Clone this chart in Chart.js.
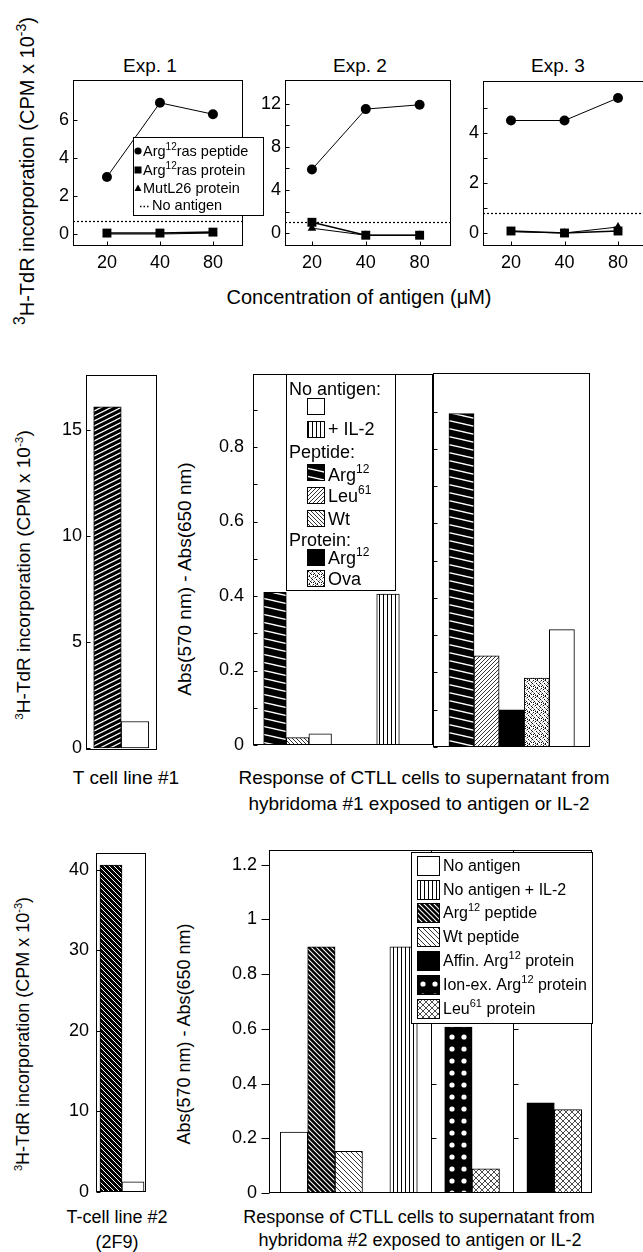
<!DOCTYPE html>
<html><head><meta charset="utf-8">
<script src="https://cdn.jsdelivr.net/npm/chart.js@4.4.1/dist/chart.umd.min.js"></script>
<style>
html,body{margin:0;padding:0;background:#fff;overflow:hidden;}
body{width:643px;height:1252px;position:relative;font-family:"Liberation Sans",Arial,Helvetica,sans-serif;color:#000;}
.pane{position:absolute;}
.txt{position:absolute;white-space:nowrap;line-height:1;transform:translate(-50%,-50%);}
.rot{transform:translate(-50%,-50%) rotate(-90deg);}
.sp{font-size:0.62em;position:relative;top:-0.6em;}
</style></head><body>
<div class="txt" style="left:150px;top:65px;font-size:19px">Exp. 1</div>
<div class="txt" style="left:360px;top:65px;font-size:19px">Exp. 2</div>
<div class="txt" style="left:558px;top:65px;font-size:19px">Exp. 3</div>
<div class="txt rot" style="left:27px;top:171px;font-size:20px"><span class="sp" style="font-size:0.78em">3</span>H-TdR incorporation (CPM x 10<span class="sp" style="font-size:0.7em">-3</span>)</div>
<div class="txt" style="left:359px;top:297px;font-size:20px">Concentration of antigen (μM)</div>
<div class="txt rot" style="left:23px;top:575px;font-size:19px"><span class="sp">3</span>H-TdR incorporation (CPM x 10<span class="sp">-3</span>)</div>
<div class="txt rot" style="left:184px;top:579px;font-size:19px">Abs(570 nm) - Abs(650 nm)</div>
<div class="txt" style="left:126px;top:777px;font-size:19px">T cell line #1</div>
<div class="txt" style="left:424px;top:777px;font-size:19px">Response of CTLL cells to supernatant from</div>
<div class="txt" style="left:419px;top:803px;font-size:19px">hybridoma #1 exposed to antigen or IL-2</div>
<div class="txt rot" style="left:23px;top:1034px;font-size:18px"><span class="sp">3</span>H-TdR incorporation (CPM x 10<span class="sp">-3</span>)</div>
<div class="txt rot" style="left:184px;top:1034px;font-size:18px">Abs(570 nm) - Abs(650 nm)</div>
<div class="txt" style="left:117px;top:1217px;font-size:18px">T-cell line #2</div>
<div class="txt" style="left:117px;top:1242px;font-size:18px">(2F9)</div>
<div class="txt" style="left:419px;top:1217px;font-size:18px">Response of CTLL cells to supernatant from</div>
<div class="txt" style="left:420px;top:1240px;font-size:18px">hybridoma #2 exposed to antigen or IL-2</div>
<script>
// ===================== DATA =====================
const concentrations = [20, 40, 80];
const exp1Peptide = [3.0, 6.9, 6.3];
const exp1Protein = [0.05, 0.05, 0.1];
const exp1MutL26 = [0.0, 0.0, 0.05];
const exp1NoAntigen = 0.7;
const exp2Peptide = [5.9, 11.5, 11.9];
const exp2Protein = [1.0, -0.2, -0.2];
const exp2MutL26 = [0.45, -0.2, -0.2];
const exp2NoAntigen = 1.0;
const exp3Peptide = [4.5, 4.5, 5.4];
const exp3Protein = [0.08, 0.0, 0.08];
const exp3MutL26 = [0.05, 0.0, 0.24];
const exp3NoAntigen = 0.8;
const exp1YTicks = [0, 2, 4, 6];
const exp2YTicks = [0, 4, 8, 12];
const exp2YMinor = [2, 6, 10];
const exp3YTicks = [0, 2, 4];
const exp3YMinor = [1, 3, 5];

const tcell1Bars = ['Arg12 peptide', 'No antigen'];
const tcell1Values = [16.1, 1.25];
const tcell1YTicks = [0, 5, 10, 15];

const hyb1aBars = ['Arg12 peptide', 'Wt peptide', 'No antigen', null, null, 'No antigen + IL-2'];
const hyb1aValues = [0.41, 0.02, 0.03, null, null, 0.405];
const hyb1bBars = ['Arg12 peptide', 'Leu61 peptide', 'Arg12 protein', 'Ova protein', 'No antigen'];
const hyb1bValues = [0.895, 0.245, 0.1, 0.185, 0.315];
const abs1YTicks = [0, 0.2, 0.4, 0.6, 0.8];
const abs1YMinor = [0.1, 0.3, 0.5, 0.7, 0.9];

const tcell2Bars = ['Arg12 peptide', 'No antigen'];
const tcell2Values = [40.6, 1.25];
const tcell2YTicks = [0, 10, 20, 30, 40];

const hyb2Bars = ['No antigen', 'Arg12 peptide', 'Wt peptide', null, 'No antigen + IL-2', null,
                  'Ion-ex. Arg12 protein', 'Leu61 protein', null, 'Affin. Arg12 protein', 'Leu61 protein'];
const hyb2Values = [0.223, 0.90, 0.152, null, 0.90, null, 0.607, 0.088, null, 0.33, 0.305];
const abs2YTicks = [0, 0.2, 0.4, 0.6, 0.8, 1, 1.2];

// ===================== STYLE HELPERS =====================
const FONT = '"Liberation Sans", Arial, Helvetica, sans-serif';
const BLACK = '#000';
function tile(w, h, bg, draw) {
  const c = document.createElement('canvas'); c.width = w; c.height = h;
  const g = c.getContext('2d'); g.fillStyle = bg; g.fillRect(0, 0, w, h); draw(g, w, h);
  return document.createElement('canvas').getContext('2d').createPattern(c, 'repeat');
}
function diag(w, h, bg, fg, lw, dir) {
  return tile(w, h, bg, g => {
    g.strokeStyle = fg; g.lineWidth = lw;
    for (let k = -1; k <= 1; k++) {
      g.beginPath();
      if (dir > 0) { g.moveTo(-1, k * h - h / w); g.lineTo(w + 1, k * h + h + h / w); }
      else { g.moveTo(-1, k * h + h + h / w); g.lineTo(w + 1, k * h - h / w); }
      g.stroke();
    }
  });
}
const stipDark = [[1,0],[5,0],[3,1],[7,2],[0,3],[4,3],[2,5],[6,5],[1,6],[5,7],[3,7],[7,6]];
const stipGray = [[0,1],[6,1],[2,2],[5,4],[1,4],[7,4],[3,6],[4,0]];
const P = {
  vlines: tile(4, 4, '#fff', g => { g.fillStyle = BLACK; g.fillRect(0, 0, 1, 4); }),
  hatchMidArg: diag(36, 8, BLACK, '#fff', 1.3, 1),
  leu: diag(4, 4, '#fff', BLACK, 0.8, -1),
  wt: diag(4, 4, '#fff', BLACK, 0.8, 1),
  ova: tile(8, 8, '#fff', g => { g.fillStyle = '#111'; stipDark.forEach(p => g.fillRect(p[0], p[1], 1, 1)); g.fillStyle = '#999'; stipGray.forEach(p => g.fillRect(p[0], p[1], 1, 1)); }),
  tc1: diag(10, 5, BLACK, '#fff', 1.2, -1),
  arg2: diag(5, 5, BLACK, '#fff', 1.1, 1),
  wt2: diag(5, 5, '#fff', BLACK, 0.8, 1),
  tc2: diag(5, 5, BLACK, '#fff', 1.0, 1),
  dots: tile(12, 12, BLACK, g => { g.fillStyle = '#fff'; [0, 12].forEach(y => { g.beginPath(); g.arc(3, y, 2.6, 0, Math.PI * 2); g.fill(); }); }),
  cross: tile(6, 6, '#fff', g => { g.strokeStyle = BLACK; g.lineWidth = 0.7; g.beginPath(); g.moveTo(-1, -1); g.lineTo(7, 7); g.moveTo(-1, 7); g.lineTo(7, -1); g.stroke(); })
};
const tc1Styles = { 'Arg12 peptide': P.tc1, 'No antigen': '#fff' };
const hyb1Styles = { 'Arg12 peptide': P.hatchMidArg, 'Wt peptide': P.wt, 'Leu61 peptide': P.leu, 'No antigen': '#fff',
  'No antigen + IL-2': P.vlines, 'Arg12 protein': BLACK, 'Ova protein': P.ova };
const tc2Styles = { 'Arg12 peptide': P.tc2, 'No antigen': '#fff' };
const hyb2Styles = { 'No antigen': '#fff', 'No antigen + IL-2': P.vlines, 'Arg12 peptide': P.arg2, 'Wt peptide': P.wt2,
  'Affin. Arg12 protein': BLACK, 'Ion-ex. Arg12 protein': P.dots, 'Leu61 protein': P.cross };

function rich(ctx, x, y, parts, size) {
  let cx = x;
  parts.forEach(p => {
    if (typeof p === 'string') { ctx.font = size + 'px ' + FONT; ctx.fillText(p, cx, y); cx += ctx.measureText(p).width; }
    else { const s = Math.round(size * 0.66); ctx.font = s + 'px ' + FONT; ctx.fillText(p.sup, cx, y - size * 0.36); cx += ctx.measureText(p.sup).width; }
  });
}
function swatch(ctx, fill, x, y, w, h) {
  ctx.fillStyle = fill; ctx.fillRect(x, y, w, h);
  ctx.strokeStyle = BLACK; ctx.lineWidth = 1; ctx.strokeRect(x + 0.5, y + 0.5, w - 1, h - 1);
  ctx.fillStyle = BLACK;
}

// ===================== DECORATION PLUGIN =====================
const deco = {
  id: 'deco',
  beforeDatasetsDraw(chart, args, o) {
    const ctx = chart.ctx, a = chart.chartArea, ys = chart.scales.y;
    ctx.save(); ctx.strokeStyle = BLACK; ctx.lineWidth = 1.2; ctx.setLineDash([2, 2]);
    (o.hlines || []).forEach(v => { const y = Math.round(ys.getPixelForValue(v)) + 0.5; ctx.beginPath(); ctx.moveTo(a.left, y); ctx.lineTo(a.right, y); ctx.stroke(); });
    ctx.restore();
  },
  afterDatasetsDraw(chart, args, o) {
    const ctx = chart.ctx, a = chart.chartArea, xs = chart.scales.x, ys = chart.scales.y;
    ctx.save(); ctx.strokeStyle = BLACK; ctx.lineWidth = 1; ctx.setLineDash([]);
    const L = Math.round(a.left) + 0.5, T = Math.round(a.top) + 0.5, R = Math.round(a.right) - 0.5, B = Math.round(a.bottom) - 0.5;
    (o.subAxes || []).forEach(sa => {
      const x = Math.round(xs.getPixelForValue(sa.at)) + 0.5;
      ctx.beginPath(); ctx.moveTo(x, T); ctx.lineTo(x, B); ctx.stroke();
      sa.ticks.forEach(v => { const y = Math.round(ys.getPixelForValue(v)) + 0.5; ctx.beginPath(); ctx.moveTo(x, y); ctx.lineTo(x + 5, y); ctx.stroke(); });
    });
    ctx.strokeRect(L, T, R - L, B - T);
    const tl = o.tickLen || 4;
    (o.yTicks || []).concat(o.yMinor || []).forEach(v => {
      const y = Math.round(ys.getPixelForValue(v)) + 0.5;
      ctx.beginPath();
      if (o.yDir === 'out') { ctx.moveTo(L - tl, y); ctx.lineTo(L, y); } else { ctx.moveTo(L, y); ctx.lineTo(L + tl, y); }
      ctx.stroke();
    });
    (o.xTicks || []).forEach(v => {
      const x = Math.round(xs.getPixelForValue(v)) + 0.5;
      ctx.beginPath(); ctx.moveTo(x, B); ctx.lineTo(x, B - tl); ctx.stroke();
    });
    if (o.legend) { ctx.translate(-o.origin.x, -o.origin.y); o.legend(ctx); }
    ctx.restore();
  }
};

// ===================== CHART BUILDERS =====================
function mkChart(frame, m, config) {
  const div = document.createElement('div'); div.className = 'pane';
  div.style.left = (frame.l - m.L) + 'px'; div.style.top = (frame.t - m.T) + 'px';
  div.style.width = (frame.r - frame.l + m.L + m.R) + 'px'; div.style.height = (frame.b - frame.t + m.T + m.B) + 'px';
  const cv = document.createElement('canvas'); div.appendChild(cv); document.body.appendChild(div);
  const o = config.options;
  o.responsive = true; o.maintainAspectRatio = false; o.animation = false; o.events = [];
  o.layout = { padding: { top: m.T, right: m.R, left: 0, bottom: 0 }, autoPadding: false };
  o.plugins = Object.assign({ legend: { display: false }, tooltip: { enabled: false } }, o.plugins);
  o.plugins.deco.origin = { x: frame.l - m.L, y: frame.t - m.T };
  config.plugins = [deco];
  return new Chart(cv, config);
}
function yScale(min, max, ticks, m, pad, fmt, show) {
  return {
    type: 'linear', min, max,
    afterBuildTicks: s => { s.ticks = ticks.map(v => ({ value: v })); },
    afterFit: s => { s.width = m.L; s.paddingTop = 0; s.paddingBottom = 0; },
    grid: { display: false, drawTicks: false }, border: { display: false },
    ticks: { display: show !== false, padding: pad, color: BLACK, autoSkip: false, font: { family: FONT, size: 18 }, callback: v => fmt(v) }
  };
}
function xLog(min, max, m) {
  return {
    type: 'logarithmic', min, max, offset: false,
    afterBuildTicks: s => { s.ticks = concentrations.map(v => ({ value: v })); },
    afterFit: s => { s.height = m.B; s.paddingLeft = 0; s.paddingRight = 0; },
    grid: { display: false, drawTicks: false }, border: { display: false },
    ticks: { padding: 6, color: BLACK, autoSkip: false, maxRotation: 0, minRotation: 0, font: { family: FONT, size: 18 }, callback: v => String(v) }
  };
}
function xSlots(min, max, n, m) {
  return {
    type: 'linear', min, max, offset: false, bounds: 'data',
    grid: { display: false, drawTicks: false, offset: false }, border: { display: false }, ticks: { display: false },
    afterBuildTicks: s => { s.ticks = Array.from({ length: n }, (_, i) => ({ value: i })); },
    afterFit: s => { s.height = m.B; s.paddingLeft = 0; s.paddingRight = 0; }
  };
}
function lineDs(vals, style, r, lw) {
  return { data: concentrations.map((c, i) => ({ x: c, y: vals[i] })), borderColor: BLACK, borderWidth: lw,
    pointStyle: style, pointRadius: r, pointBackgroundColor: BLACK, pointBorderColor: BLACK, pointBorderWidth: 0,
    tension: 0, fill: false, clip: false };
}
function barDs(names, values, styles) {
  const data = [], fills = [];
  names.forEach((n, i) => { if (n !== null && values[i] !== null) { data.push({ x: i, y: values[i] }); fills.push(styles[n]); } });
  return { data, backgroundColor: c => fills[c.dataIndex], borderColor: BLACK, borderWidth: 1,
    borderSkipped: false, barPercentage: 1, categoryPercentage: 1 };
}
const intFmt = v => String(v);
const decFmt = v => String(Math.round(v * 10) / 10);

// ===================== TOP ROW =====================
const mTop1 = { L: 40, T: 10, R: 25, B: 30 };
const mTop = { L: 40, T: 10, R: 5, B: 30 };
function expChart(frame, m, xr, yr, pep, prot, mut, noAg, yT, yMin, legend) {
  return mkChart(frame, m, {
    type: 'line',
    data: { datasets: [lineDs(pep, 'circle', 5, 1), lineDs(prot, 'rect', 6.3, 1.6), lineDs(mut, 'triangle', 5, 1)] },
    options: {
      scales: { x: xLog(xr[0], xr[1], m), y: yScale(yr[0], yr[1], yT, m, 4, intFmt) },
      plugins: { deco: { hlines: [noAg], yTicks: yT, yMinor: yMin, xTicks: concentrations, legend } }
    }
  });
}
expChart({ l: 73, t: 80, r: 243, b: 246 }, mTop1, [12.83, 118.5], [-0.63, 8.1], exp1Peptide, exp1Protein, exp1MutL26, exp1NoAntigen, exp1YTicks, [],
  ctx => {
    ctx.fillStyle = '#fff'; ctx.fillRect(133, 137, 130, 78);
    ctx.strokeStyle = BLACK; ctx.lineWidth = 1; ctx.strokeRect(133.5, 137.5, 130, 78);
    ctx.fillStyle = BLACK; ctx.textBaseline = 'middle';
    ctx.beginPath(); ctx.arc(138, 151, 3.6, 0, Math.PI * 2); ctx.fill();
    rich(ctx, 143, 152, ['Arg', { sup: '12' }, 'ras peptide'], 14.5);
    ctx.fillRect(134.5, 166.5, 7, 7);
    rich(ctx, 143, 171, ['Arg', { sup: '12' }, 'ras protein'], 14.5);
    ctx.beginPath(); ctx.moveTo(138, 184.5); ctx.lineTo(141.5, 191); ctx.lineTo(134.5, 191); ctx.closePath(); ctx.fill();
    rich(ctx, 143, 189, ['MutL26 protein'], 14.5);
    ctx.setLineDash([1.5, 2]); ctx.lineWidth = 1.5; ctx.beginPath(); ctx.moveTo(140, 206.5); ctx.lineTo(149, 206.5); ctx.stroke(); ctx.setLineDash([]);
    rich(ctx, 152, 206, ['No antigen'], 14.5);
  });
expChart({ l: 285, t: 80, r: 451, b: 246 }, mTop, [14.14, 119.8], [-1.2, 14.2], exp2Peptide, exp2Protein, exp2MutL26, exp2NoAntigen, exp2YTicks, exp2YMinor, null);
expChart({ l: 483, t: 81, r: 662, b: 246 }, mTop, [13.92, 141.4], [-0.52, 6.08], exp3Peptide, exp3Protein, exp3MutL26, exp3NoAntigen, exp3YTicks, exp3YMinor, null);

// ===================== MIDDLE ROW =====================
function barChart(frame, m, xr, yr, names, values, styles, decoOpts, yT, pad, fmt, showY) {
  return mkChart(frame, m, {
    type: 'bar',
    data: { datasets: [barDs(names, values, styles)] },
    options: {
      scales: { x: xSlots(xr[0], xr[1], names.length, m), y: yScale(yr[0], yr[1], yT, m, pad, fmt, showY) },
      plugins: { deco: decoOpts }
    }
  });
}
barChart({ l: 86, t: 375, r: 157, b: 750 }, { L: 40, T: 5, R: 5, B: 10 }, [-0.78, 1.8], [-0.094, 17.6],
  tcell1Bars, tcell1Values, tc1Styles, { yTicks: tcell1YTicks }, tcell1YTicks, 4, intFmt);

barChart({ l: 253, t: 374, r: 433, b: 745 }, { L: 50, T: 5, R: 5, B: 10 }, [-0.973, 6.99], [0, 0.996],
  hyb1aBars, hyb1aValues, hyb1Styles, {
    yTicks: abs1YTicks, yMinor: abs1YMinor,
    legend: ctx => {
      ctx.fillStyle = '#fff'; ctx.fillRect(286, 374, 109, 216);
      ctx.strokeStyle = BLACK; ctx.lineWidth = 1; ctx.strokeRect(286.5, 374.5, 109, 216);
      ctx.fillStyle = BLACK; ctx.textBaseline = 'middle';
      rich(ctx, 289, 390, ['No antigen:'], 18);
      swatch(ctx, hyb1Styles['No antigen'], 307, 398, 18, 17);
      swatch(ctx, hyb1Styles['No antigen + IL-2'], 307, 421, 18, 17);
      rich(ctx, 328, 430, ['+ IL-2'], 18);
      rich(ctx, 289, 453, ['Peptide:'], 18);
      swatch(ctx, hyb1Styles['Arg12 peptide'], 307, 464, 18, 17);
      rich(ctx, 328, 476, ['Arg', { sup: '12' }], 18);
      swatch(ctx, hyb1Styles['Leu61 peptide'], 307, 487, 18, 17);
      rich(ctx, 328, 497, ['Leu', { sup: '61' }], 18);
      swatch(ctx, hyb1Styles['Wt peptide'], 307, 510, 18, 17);
      rich(ctx, 328, 520, ['Wt'], 18);
      rich(ctx, 289, 541, ['Protein:'], 18);
      swatch(ctx, hyb1Styles['Arg12 protein'], 307, 549, 18, 17);
      rich(ctx, 328, 559, ['Arg', { sup: '12' }], 18);
      swatch(ctx, hyb1Styles['Ova protein'], 307, 570, 18, 17);
      rich(ctx, 328, 580, ['Ova'], 18);
    }
  }, abs1YTicks, 9, decFmt);

barChart({ l: 433, t: 373, r: 590, b: 747 }, { L: 5, T: 5, R: 5, B: 10 }, [-1.135, 5.12], [0, 1.004],
  hyb1bBars, hyb1bValues, hyb1Styles, { yTicks: abs1YTicks, yMinor: abs1YMinor }, abs1YTicks, 9, decFmt, false);

// ===================== BOTTOM ROW =====================
barChart({ l: 96, t: 853, r: 146, b: 1192 }, { L: 40, T: 5, R: 5, B: 10 }, [-0.68, 1.59], [0, 42.1],
  tcell2Bars, tcell2Values, tc2Styles, { yTicks: tcell2YTicks }, tcell2YTicks, 7, intFmt);

barChart({ l: 269, t: 850, r: 592, b: 1193 }, { L: 60, T: 5, R: 5, B: 10 }, [-0.912, 10.876], [0, 1.254],
  hyb2Bars, hyb2Values, hyb2Styles, {
    yTicks: abs2YTicks, yDir: 'out', tickLen: 8,
    subAxes: [{ at: 5, ticks: [0.2, 0.4] }, { at: 8, ticks: [0.2, 0.4, 0.6] }],
    legend: ctx => {
      ctx.fillStyle = '#fff'; ctx.fillRect(411, 852, 181, 171);
      ctx.strokeStyle = BLACK; ctx.lineWidth = 1; ctx.strokeRect(411.5, 852.5, 181, 171);
      ctx.fillStyle = BLACK; ctx.textBaseline = 'middle';
      const rows = [
        ['No antigen', 866, ['No antigen']],
        ['No antigen + IL-2', 890, ['No antigen + IL-2']],
        ['Arg12 peptide', 913, ['Arg', { sup: '12' }, ' peptide']],
        ['Wt peptide', 937, ['Wt peptide']],
        ['Affin. Arg12 protein', 961, ['Affin. Arg', { sup: '12' }, ' protein']],
        ['Ion-ex. Arg12 protein', 985, ['Ion-ex. Arg', { sup: '12' }, ' protein']],
        ['Leu61 protein', 1009, ['Leu', { sup: '61' }, ' protein']]
      ];
      rows.forEach(r => { swatch(ctx, hyb2Styles[r[0]], 417, r[1] - 10, 23, 20); rich(ctx, 443, r[1] + 1, r[2], 16); });
    }
  }, abs2YTicks, 12, decFmt);
</script>
</body></html>
